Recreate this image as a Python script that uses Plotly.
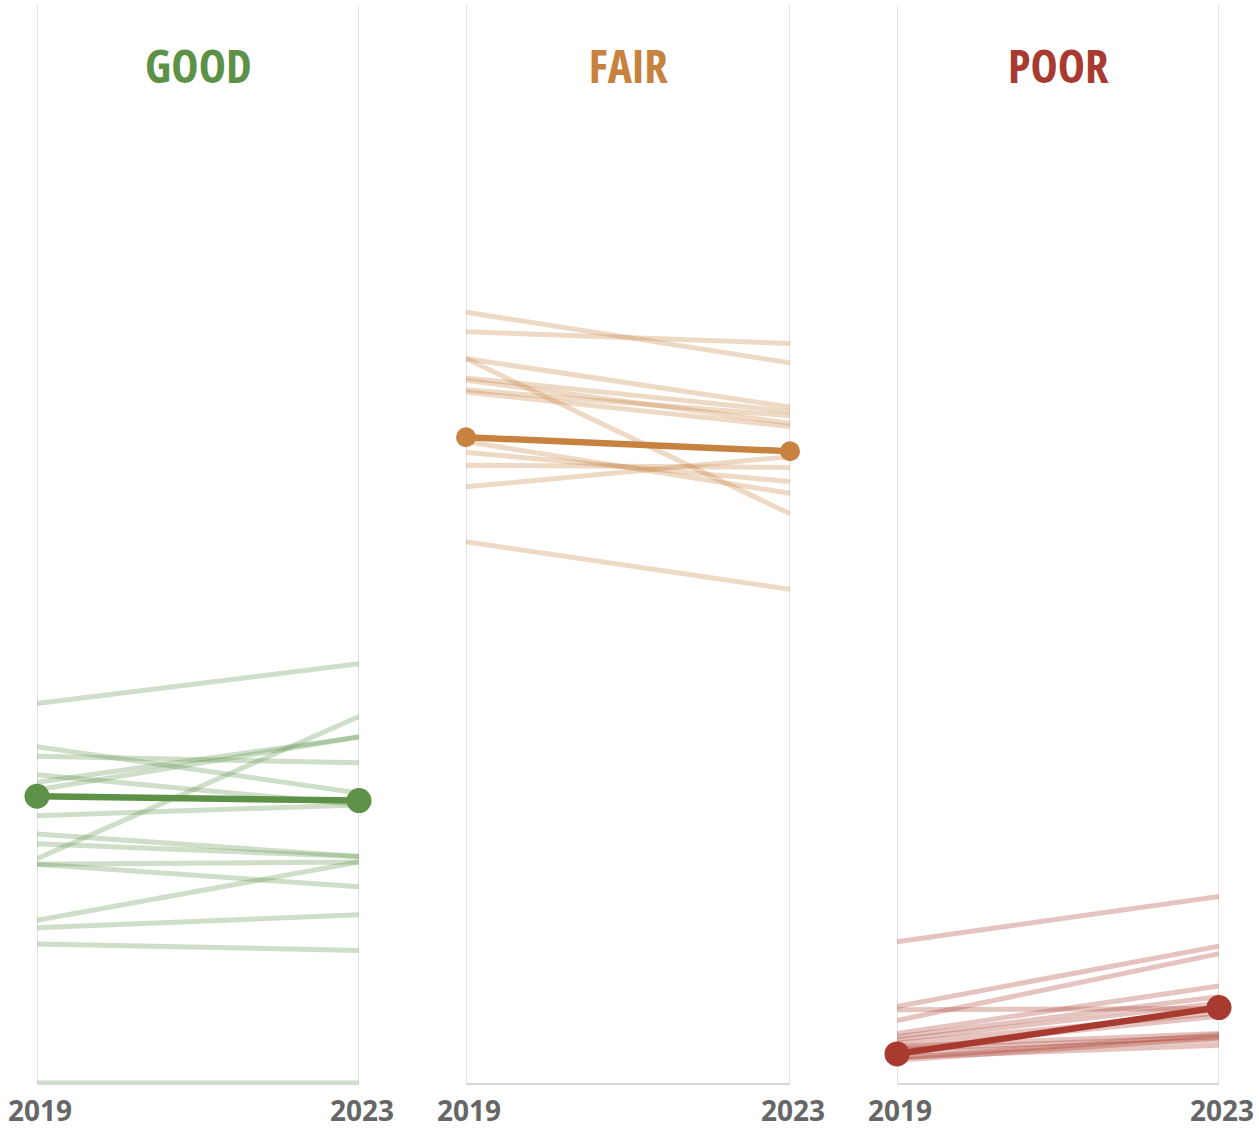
import plotly.graph_objects as go

years = [2019, 2023]
panels = ["GOOD", "FAIR", "POOR"]
colors = {"GOOD": "#5E9148", "FAIR": "#C8823F", "POOR": "#A83A2F"}
light = {"GOOD": "rgba(94,145,72,0.30)", "FAIR": "rgba(200,130,63,0.30)", "POOR": "rgba(168,58,47,0.30)"}

good_2019 = [35.2, 31.2, 30.3, 28.6, 27.9, 27.2, 24.8, 23.1, 22.2, 20.8, 20.3, 20.3, 15.1, 14.4, 12.9, 0.0]
good_2023 = [38.9, 26.9, 29.7, 25.8, 32.1, 32.1, 25.8, 21.0, 21.0, 34.0, 20.5, 18.2, 20.5, 15.6, 12.3, 0.0]
good_avg = [26.6, 26.2]

fair_2019 = [71.5, 69.7, 67.2, 67.2, 65.4, 65.2, 64.3, 64.1, 59.5, 58.5, 57.3, 55.3, 50.2]
fair_2023 = [66.8, 68.6, 62.7, 52.8, 62.3, 61.2, 61.9, 60.9, 54.7, 55.8, 57.1, 58.1, 45.8]
fair_avg = [59.9, 58.6]

poor_2019 = [13.1, 7.1, 5.8, 6.8, 4.6, 4.3, 4.0, 3.7, 3.4, 3.1, 2.8, 2.4, 2.3, 3.2, 2.1]
poor_2023 = [17.3, 12.7, 12.0, 6.9, 9.0, 8.0, 7.4, 6.5, 4.6, 4.3, 4.0, 3.5, 4.5, 6.2, 4.2]
poor_avg = [2.7, 7.0]

data = {
    "GOOD": (good_2019, good_2023, good_avg, 25),
    "FAIR": (fair_2019, fair_2023, fair_avg, 20),
    "POOR": (poor_2019, poor_2023, poor_avg, 25),
}

W, H = 1259, 1130
domains = [(37 / W, 359 / W), (466 / W, 790 / W), (897 / W, 1219 / W)]
FONT = "Open Sans"

fig = go.Figure()
for i, name in enumerate(panels):
    a, b, avg, msize = data[name]
    xa = "x" if i == 0 else f"x{i+1}"
    for yr in years:
        fig.add_shape(type="line", xref=xa, x0=yr, x1=yr, yref="paper", y0=0, y1=1,
                      line=dict(color="#d9d9d9", width=1.5), layer="below")
    for v0, v1 in zip(a, b):
        fig.add_trace(go.Scatter(x=years, y=[v0, v1], mode="lines", xaxis=xa, yaxis="y",
                                 line=dict(color=light[name], width=5), hoverinfo="skip",
                                 showlegend=False, cliponaxis=False))
    fig.add_trace(go.Scatter(x=years, y=avg, mode="lines+markers", xaxis=xa, yaxis="y",
                             line=dict(color=colors[name], width=6.5),
                             marker=dict(size=msize, color=colors[name]),
                             showlegend=False, cliponaxis=False))
    fig.add_annotation(text=f"<b>{name}</b>", x=sum(domains[i]) / 2, xref="paper",
                       y=94.4, yref="y", xanchor="center", yanchor="middle",
                       showarrow=False, font=dict(size=46, color=colors[name], family=FONT))

axis_common = dict(range=[2019, 2023], tickvals=years, ticktext=["2019", "2023"],
                   showgrid=False, zeroline=False, automargin=False,
                   showline=True, linecolor="#d9d9d9", linewidth=1.5, ticks="",
                   ticklabelstandoff=3, ticklabelshift=3, ticklabeloverflow="allow",
                   tickfont=dict(size=28, color="#666666", family=FONT, weight="bold"),
                   fixedrange=True)

layout = dict(template="none", width=W, height=H, margin=dict(l=0, r=0, t=5, b=47, pad=0),
              plot_bgcolor="white", paper_bgcolor="white", showlegend=False,
              yaxis=dict(range=[0, 100], showgrid=False, showticklabels=False, zeroline=False,
                         showline=False, anchor="x", fixedrange=True, automargin=False))
for i in range(3):
    key = "xaxis" if i == 0 else f"xaxis{i+1}"
    d = dict(axis_common)
    d["domain"] = list(domains[i])
    d["anchor"] = "y"
    layout[key] = d

fig.update_layout(**layout)
post = """
document.body.style.margin='0';
document.querySelectorAll('.annotation-text').forEach(function(e){e.style.fontStretch='condensed';});
document.querySelectorAll('.xtick text, .x2tick text, .x3tick text').forEach(function(e){e.style.fontStretch='88%';});
"""
fig.write_html("out.html", post_script=post, config={"displayModeBar": False})
